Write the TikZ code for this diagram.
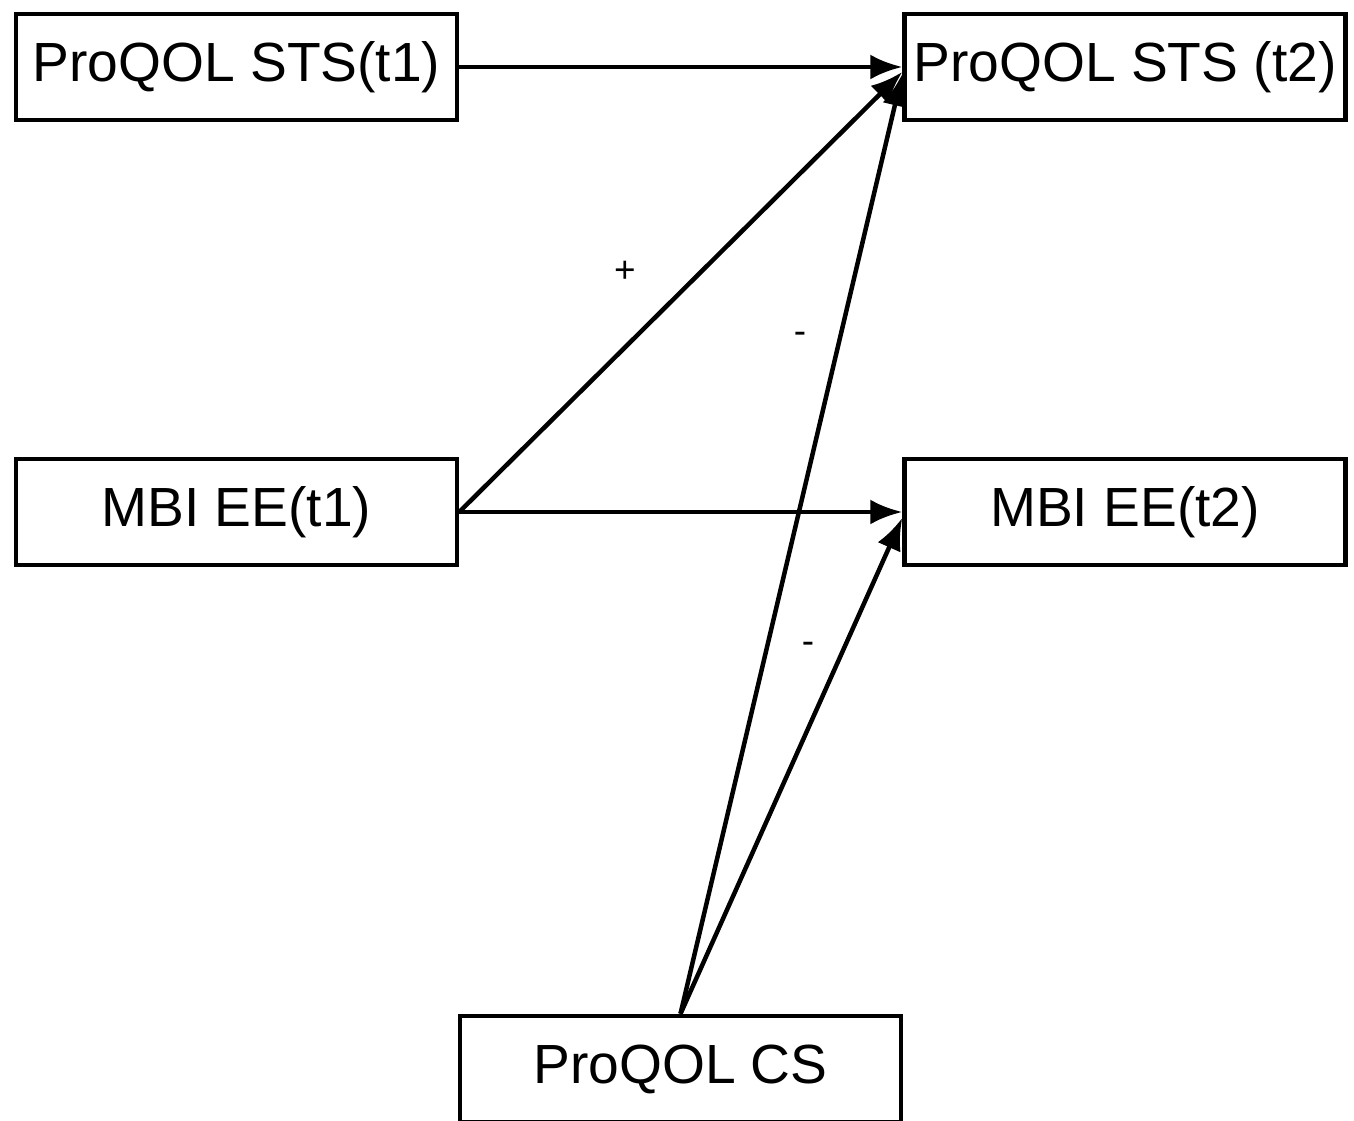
\documentclass[tikz,border=0pt]{standalone}
\usepackage{fontspec}
\setmainfont{Liberation Sans}
\usetikzlibrary{arrows.meta}

\begin{document}
\begin{tikzpicture}
[
	box/.style={draw,line width=0.045cm,minimum width=4.41cm,minimum height=1.06cm,inner sep=0pt,font=\fontsize{15.7}{18}\selectfont},
	path/.style={line width=0.045cm,-{Latex[length=3.2mm,width=2.5mm]}},
	sign/.style={font=\fontsize{10.5}{12}\selectfont,inner sep=0pt}
]

	\useasboundingbox (0,0) rectangle (13.54,11.20);

	% measures at t1 and t2
	\node[box] (sts1) at (2.365,10.53) {ProQOL STS(t1)};
	\node[box] (sts2) at (11.25,10.53) {ProQOL STS (t2)};
	\node[box] (ee1) at (2.365,6.08) {MBI EE(t1)};
	\node[box] (ee2) at (11.25,6.08) {MBI EE(t2)};
	\node[box] (cs) at (6.805,0.51) {ProQOL CS};

	% paths
	\draw[path] (sts1.east) -- (sts2.west);
	\draw[path] (ee1.east) -- ([yshift=-0.05cm]sts2.west);
	\draw[path] (ee1.east) -- (ee2.west);
	\draw[path] (cs.north) -- ([yshift=-0.07cm]sts2.west);
	\draw[path] (cs.north) -- ([yshift=-0.06cm]ee2.west);

	% signs
	\node[sign] (pos) at (6.25,8.48) {+};
	\node[sign] (negsts) at (8.00,7.82) {-};
	\node[sign] (negee) at (8.08,4.72) {-};

\end{tikzpicture}
\end{document}
